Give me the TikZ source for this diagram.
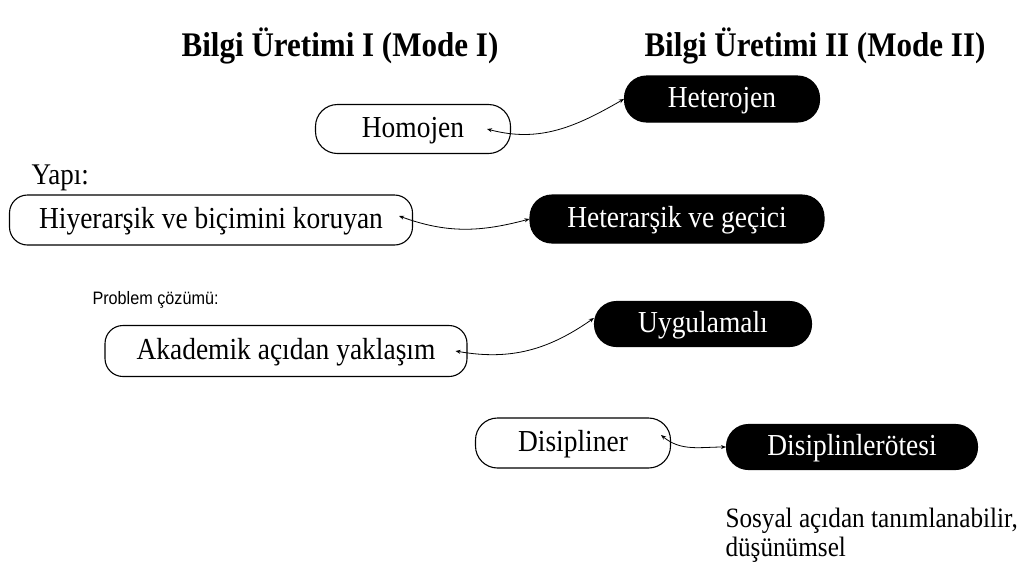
\documentclass[tikz,border=0pt]{standalone}
\usepackage{fontspec}
\setmainfont{Liberation Serif}[FakeStretch=0.9]
\newfontfamily\arialfont{Liberation Sans}[FakeStretch=0.9]
\usetikzlibrary{arrows.meta}
\tikzset{
    % Box styles
    mode one/.style={
        draw=black,
        fill=white,
        line width=1.1pt,
        rectangle,
        rounded corners=22pt,
        inner sep=0pt,
        text height=17pt,
        text depth=0pt,
        font=\fontsize{30.5}{33}\selectfont
    },
    mode two/.style={
        mode one,
        fill=black,
        text=white
    },
    % Arrow styles
    link/.style={
        {Stealth[length=5pt,width=4pt]}-{Stealth[length=5pt,width=4pt]},
        line width=0.8pt,
        black
    },
    % Text styles
    heading/.style={
        font=\bfseries\fontsize{34.5}{38}\selectfont
    },
    label/.style={
        font=\fontsize{30}{33}\selectfont
    }
}

\begin{document}
\begin{tikzpicture}[x=1pt,y=-1pt]
    \useasboundingbox (0,0) rectangle (1027,563);

    \node[heading] (head1) at (340,46) {Bilgi Üretimi I (Mode I)};
    \node[heading] (head2) at (815,46) {Bilgi Üretimi II (Mode II)};

    \node[mode one, minimum width=195pt, minimum height=49pt] (homo) at (413,129) {Homojen};
    \node[mode two, minimum width=195pt, minimum height=46pt] (hetero) at (722,99) {Heterojen};

    \node[label, anchor=base west] (yapi) at (28,184) {Yapı:};
    \node[mode one, minimum width=403pt, minimum height=50pt, rounded corners=18pt] (hiyer) at (211,220) {Hiyerarşik ve biçimini koruyan};
    \node[mode two, minimum width=294pt, minimum height=48pt] (heter) at (677,219) {Heterarşik ve geçici};

    \node[anchor=base west, font=\arialfont\fontsize{18}{21}\selectfont] (problem) at (89,304) {Problem çözümü:};
    \node[mode one, minimum width=362pt, minimum height=51pt, rounded corners=18pt] (akad) at (286,351) {Akademik açıdan yaklaşım};
    \node[mode two, minimum width=217pt, minimum height=45pt] (uyg) at (703,324) {Uygulamalı};

    \node[mode one, minimum width=195pt, minimum height=50pt] (disip) at (573,443) {Disipliner};
    \node[mode two, minimum width=251pt, minimum height=45pt] (otesi) at (852,447) {Disiplinlerötesi};

    \node[anchor=north west, align=left, font=\fontsize{28}{29}\selectfont] (sosyal) at (722,505) {Sosyal açıdan tanımlanabilir,\\düşünümsel};

    \draw[link] ([xshift=-24pt]homo.east) to[out=-15,in=210] (hetero.west);
    \draw[link] ([xshift=-14pt,yshift=4pt]hiyer.east) to[out=-20,in=195] (heter.west);
    \draw[link] ([xshift=-12pt]akad.east) to[out=-10,in=215] ([yshift=6pt]uyg.west);
    \draw[link] ([xshift=-10pt,yshift=8pt]disip.east) to[out=-40,in=180] (otesi.west);
\end{tikzpicture}
\end{document}
